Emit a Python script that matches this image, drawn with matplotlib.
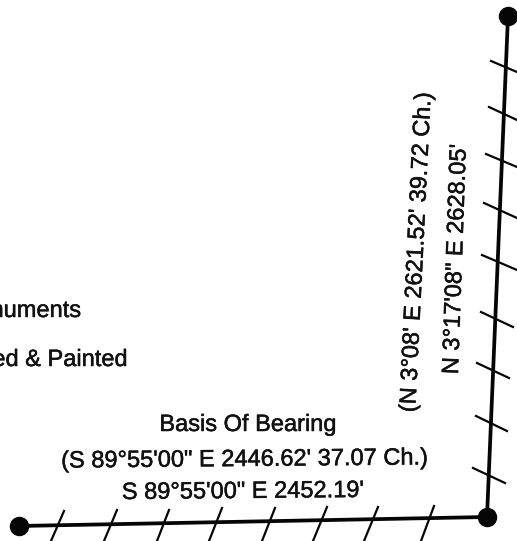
#!/usr/bin/python3

import matplotlib
matplotlib.use('Agg')
import matplotlib.pyplot as plt
import matplotlib.patheffects as pe

plt.rcParams['font.family'] = ['Liberation Sans', 'DejaVu Sans']

# survey line (image pixels)
corner_x = [19, 487, 508]
corner_y = [526, 517, 16]

# hatch marks along the bottom line
bottom_x0 = [51, 104, 157, 209, 262, 313, 364, 421]
bottom_y0 = [541, 541, 541, 541, 541, 541, 541, 541]
bottom_x1 = [64, 117, 169, 222, 275, 327, 378, 434]
bottom_y1 = [511, 510, 510, 508, 508, 507, 507, 506]

# hatch marks along the right line
right_x0 = [491, 489, 486, 484, 482, 481, 477, 476, 473]
right_y0 = [61, 107, 154, 203, 255, 312, 363, 416, 468]
right_x1 = [517, 517, 517, 517, 517, 513, 509, 507, 505]
right_y1 = [72, 120, 167, 218, 270, 327, 378, 431, 483]

basis_title = 'Basis Of Bearing'
bearing_record = '(S 89°55\'00" E 2446.62\' 37.07 Ch.)'
bearing_measured = 'S 89°55\'00" E 2452.19\''
north_record = "(N 3°08' E 2621.52' 39.72 Ch.)"
north_measured = 'N 3°17\'08" E 2628.05\''
legend_top = 'numents'
legend_bottom = 'ed & Painted'

fig = plt.figure(figsize=(5.17, 5.41), dpi=100)
ax = fig.add_axes([0, 0, 1, 1])
ax.set_xlim(0, 517)
ax.set_ylim(541, 0)
ax.axis('off')

for i in range(len(bottom_x0)):
    ax.plot([bottom_x0[i], bottom_x1[i]], [bottom_y0[i], bottom_y1[i]], color='#050505', lw=1.6)
for i in range(len(right_x0)):
    ax.plot([right_x0[i], right_x1[i]], [right_y0[i], right_y1[i]], color='#050505', lw=1.6)

ax.plot(corner_x, corner_y, color='#050505', lw=2.7, marker='o', ms=13, solid_joinstyle='miter')

# scanned look, text is a bit heavier than the plain font
heavy = [pe.withStroke(linewidth=0.35, foreground='#111111')]
kw = dict(color='#111111', fontsize=17, va='center', rotation_mode='anchor', path_effects=heavy)
ax.text(248, 425, basis_title, ha='center', rotation=0, **kw)
ax.text(245, 460, bearing_record, ha='center', rotation=0.5, **kw)
ax.text(243, 492, bearing_measured, ha='center', rotation=0.5, **kw)
ax.text(417, 252, north_record, ha='center', rotation=87.2, **kw)
ax.text(456, 259, north_measured, ha='center', rotation=88, **kw)
ax.text(81, 311, legend_top, ha='right', **kw)
ax.text(128, 360, legend_bottom, ha='right', **kw)

fig.savefig('out.png', dpi=100)
